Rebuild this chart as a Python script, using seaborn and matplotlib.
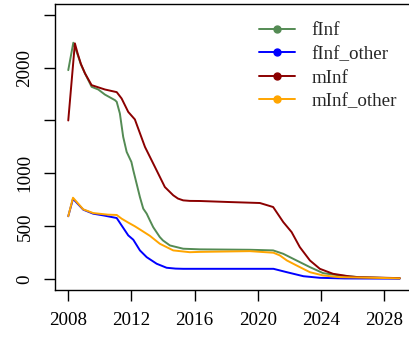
import matplotlib
matplotlib.use("Agg")
import matplotlib.pyplot as plt
from matplotlib.lines import Line2D
import seaborn as sns
import pandas as pd

# ---- data ----
years_f = [2008.0, 2008.32, 2008.6, 2008.8, 2009.06, 2009.48, 2009.9, 2010.32, 2010.96, 2011.07,
           2011.27, 2011.48, 2011.7, 2012.0, 2012.12, 2012.33, 2012.54, 2012.75, 2012.97, 2013.17,
           2013.38, 2013.8, 2014.0, 2014.44, 2014.87, 2015.28, 2016.34, 2019.5, 2020.98, 2021.62,
           2022.46, 2023.31, 2024.15, 2025.2, 2026.5, 2029.0]
fInf = [1976, 2235, 2120, 2030, 1945, 1818, 1793, 1745, 1692, 1676,
        1566, 1345, 1203, 1108, 1029, 903, 776, 667, 619, 556,
        492, 398, 366, 319, 303, 288, 282, 278, 272, 240,
        177, 114, 57, 35, 18, 8]

years_fo = [2008.0, 2008.3, 2008.95, 2009.58, 2010.22, 2011.07, 2011.38, 2011.8, 2012.12, 2012.54,
            2012.97, 2013.6, 2014.23, 2014.8, 2015.28, 2021.0, 2021.85, 2022.9, 2023.94, 2025.5,
            2029.0]
fInf_other = [595, 760, 657, 619, 603, 578, 508, 414, 373, 272,
              208, 146, 108, 100, 98, 98, 66, 28, 13, 7,
              5]

years_m = [2008.0, 2008.42, 2008.6, 2008.8, 2009.06, 2009.48, 2010.32, 2011.07, 2011.38, 2011.8,
           2012.22, 2012.86, 2013.49, 2014.12, 2014.65, 2014.95, 2015.28, 2015.7, 2016.34, 2018.24,
           2020.14, 2020.98, 2021.62, 2022.15, 2022.67, 2023.31, 2023.94, 2024.77, 2025.84, 2026.37,
           2029.0]
mInf = [1500, 2229, 2130, 2035, 1945, 1834, 1793, 1768, 1708, 1581,
        1510, 1250, 1061, 871, 793, 762, 745, 740, 739, 729,
        720, 682, 540, 445, 303, 177, 98, 51, 26, 19,
        10]

years_mo = [2008.0, 2008.3, 2008.95, 2009.58, 2010.5, 2011.07, 2011.38, 2011.8, 2012.22, 2012.54,
            2013.17, 2013.8, 2014.65, 2015.7, 2016.34, 2019.5, 2021.0, 2021.4, 2021.85, 2022.46,
            2023.31, 2024.15, 2025.2, 2029.0]
mInf_other = [595, 770, 660, 625, 610, 607, 572, 535, 500, 470,
              410, 335, 272, 255, 258, 265, 250, 225, 177, 130,
              66, 35, 19, 8]

series_names = ["fInf", "fInf_other", "mInf", "mInf_other"]
series_colors = ["#548B54", "#0000FF", "#8B0000", "#FFA500"]
x_ticks = [2008, 2012, 2016, 2020, 2024, 2028]
y_ticks = [0, 500, 1000, 1500, 2000, 2500]
y_tick_labels = ["0", "500", "1000", "", "2000", ""]

frames = []
for name, xs, ys in zip(series_names,
                        [years_f, years_fo, years_m, years_mo],
                        [fInf, fInf_other, mInf, mInf_other]):
    frames.append(pd.DataFrame({"year": xs, "value": ys, "series": name}))
df = pd.concat(frames, ignore_index=True)

sns.set_style("ticks")
plt.rcParams["font.family"] = ["Liberation Serif", "DejaVu Serif"]
FS = 13.7

fig = plt.figure(figsize=(4.09, 3.40), dpi=100)
ax = fig.add_axes([55 / 409, (340 - 289.5) / 340, (413 - 55) / 409, 285.5 / 340])

palette = dict(zip(series_names, series_colors))
sns.lineplot(data=df, x="year", y="value", hue="series", hue_order=series_names,
             palette=palette, estimator=None, sort=True, linewidth=1.4,
             legend=False, ax=ax)

ax.set_xlim(2007.16, 2029.84)
ax.set_ylim(-97.5, 2601)
ax.set_xticks(x_ticks)
ax.set_xticklabels([str(t) for t in x_ticks], fontsize=FS)
ax.set_yticks(y_ticks)
ax.set_yticklabels(y_tick_labels, fontsize=FS, rotation=90, va="center")
ax.set_xlabel("")
ax.set_ylabel("")
ax.tick_params(axis="both", direction="out", length=8, width=1, color="black", labelcolor="black")
ax.tick_params(axis="x", pad=8)
ax.tick_params(axis="y", pad=7.5)
for s in ax.spines.values():
    s.set_visible(True)
    s.set_color("black")
    s.set_linewidth(1.0)

handles = [Line2D([0], [0], color=c, lw=1.4, marker="o", markersize=5) for c in series_colors]
fig.legend(handles, series_names, loc="upper left", bbox_to_anchor=(259 / 409, 1 - 22 / 340),
           frameon=False, fontsize=FS, handlelength=1.9, handletextpad=0.85,
           labelspacing=0.33, borderpad=0, borderaxespad=0)

fig.savefig("out.png", dpi=100)
